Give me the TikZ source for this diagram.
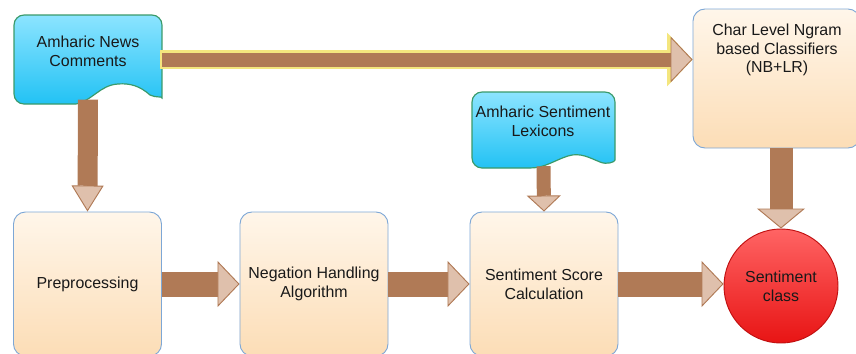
\documentclass[tikz,border=0pt]{standalone}
\usepackage{fontspec}
\setmainfont{Liberation Sans}
\usetikzlibrary{arrows.meta,positioning}
\definecolor{dcyan}{HTML}{22C2F4}
\definecolor{dcyanl}{HTML}{8CE4FF}
\definecolor{dgreen}{HTML}{3A9A6A}
\definecolor{bpeach}{HTML}{FCDDB6}
\definecolor{bpeachl}{HTML}{FFF6EA}
\definecolor{bblue}{HTML}{7DA7D6}
\definecolor{abrown}{HTML}{B07A56}
\definecolor{ahead}{HTML}{DFC0AC}
\definecolor{aglow}{HTML}{F4E67E}
\definecolor{credl}{HTML}{FF6464}
\definecolor{cred}{HTML}{E81414}
\definecolor{credd}{HTML}{C01010}

\begin{document}
\begin{tikzpicture}[x=0.03cm,y=-0.03cm,every node/.style={font=\fontsize{13.6}{16}\selectfont,align=center,text=black!90},box/.style={draw=bblue,line width=0.8pt,rounded corners=0.36cm,top color=bpeachl,bottom color=bpeach,minimum width=4.44cm,minimum height=4.32cm,inner sep=2pt},doc/.style={minimum width=4.44cm,minimum height=2.67cm,inner sep=0pt},docline/.style={draw=dgreen,line width=1pt,top color=dcyanl,bottom color=dcyan},arr/.style n args={3}{abrown,line width=#1,-{Triangle[length=#3,width=#2,fill=ahead,line width'=0.8pt]}},glow/.style={aglow,line width=0.56cm,-{Triangle[length=0.76cm,width=1.56cm]}}]
\useasboundingbox (0,0) rectangle (856,353);
\clip (0,0) rectangle (856,353);
% document shapes
\draw[docline] (88,15) [rounded corners=0.3cm] -- (162,15) -- (162,88) [sharp corners] .. controls (162,96) and (156,98) .. (150,95) .. controls (140,86) and (130,83) .. (118,84) .. controls (100,85) and (92,101) .. (76,104) [rounded corners=0.3cm] -- (14,104) -- (14,15) -- cycle;
\draw[docline] (543,92) [rounded corners=0.3cm] -- (615,92) -- (615,150) [sharp corners] .. controls (615,162) and (607,165) .. (600,162) .. controls (590,158) and (580,152) .. (568,156) .. controls (555,160) and (545,168) .. (530,168) [rounded corners=0.3cm] -- (472,168) -- (472,92) -- cycle;
\node[doc] (news) at (88,59.5) {};
\node (newstxt) at (88,51) {Amharic News\\Comments};
\node[doc,minimum width=4.29cm,minimum height=2.22cm] (lex) at (543.5,129) {};
\node (lextxt) at (543,121) {Amharic Sentiment\\Lexicons};
% boxes
\node[box] (prep) at (87.5,284) {Preprocessing};
\node[box] (neg) at (314,284) {Negation Handling\\Algorithm};
\node[box] (score) at (544,284) {Sentiment Score\\Calculation};
\node[box,minimum width=5.01cm,minimum height=4.17cm] (clf) at (776.5,78.5) {};
\node (clftxt) at (777,50) {Char Level Ngram\\based Classifiers\\(NB+LR)};
\node[circle,draw=credd,line width=0.8pt,top color=credl,bottom color=cred,minimum size=3.42cm,inner sep=0pt] (cls) at (781,286) {Sentiment\\class};
% arrows
\draw[glow] ([xshift=-2pt]news.east) -- (news.east -| clf.west);
\draw[arr={0.42cm}{1.38cm}{0.66cm}] (news.east) -- (news.east -| clf.west);
\draw[arr={0.6cm}{0.96cm}{0.78cm}] ([yshift=4pt]news.south) -- (prep.north);
\draw[arr={0.42cm}{1.02cm}{0.48cm}] (lex.south) -- (score.north);
\draw[arr={0.69cm}{1.44cm}{0.6cm}] (cls.north |- clf.south) -- (cls.north);
\draw[arr={0.75cm}{1.38cm}{0.66cm}] (prep.east) -- (neg.west);
\draw[arr={0.75cm}{1.38cm}{0.66cm}] (neg.east) -- (score.west);
\draw[arr={0.75cm}{1.38cm}{0.66cm}] (score.east) -- (score.east -| cls.west);
\end{tikzpicture}
\end{document}
